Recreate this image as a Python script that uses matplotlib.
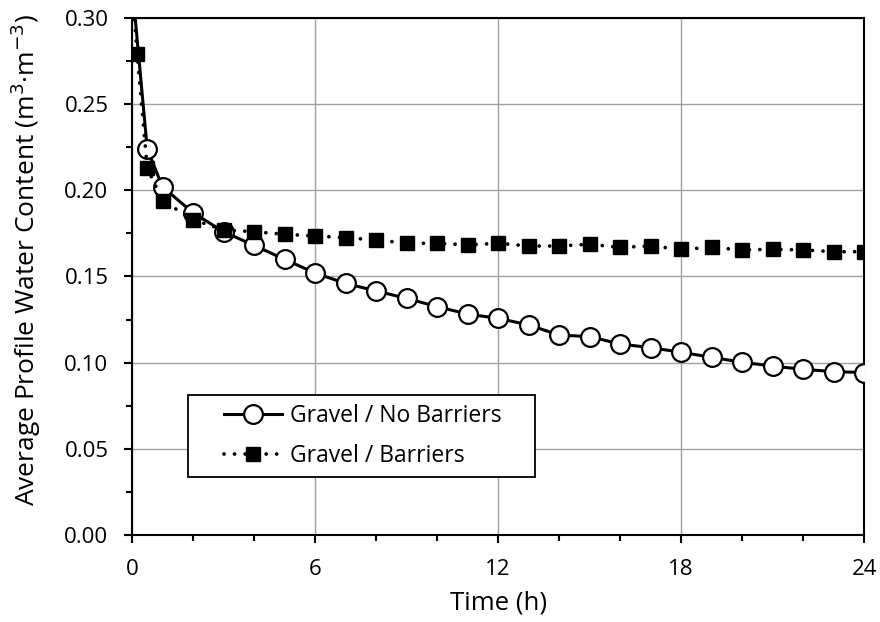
import matplotlib
matplotlib.use("Agg")
import matplotlib.pyplot as plt
from matplotlib.ticker import MultipleLocator, FormatStrFormatter
from matplotlib.patches import Rectangle

t_nb = [0, 0.5, 1, 2, 3, 4, 5, 6, 7, 8, 9, 10, 11, 12, 13, 14, 15, 16, 17, 18, 19, 20, 21, 22, 23, 24]
wc_nb = [0.32, 0.224, 0.202, 0.187, 0.176, 0.168, 0.160, 0.152, 0.146, 0.1416, 0.1373, 0.1325, 0.1282,
         0.1257, 0.1219, 0.116, 0.1151, 0.1108, 0.1087, 0.106, 0.1031, 0.1002, 0.098, 0.0961, 0.0948, 0.0942]

t_b = [0, 0.167, 0.5, 1, 2, 3, 4, 5, 6, 7, 8, 9, 10, 11, 12, 13, 14, 15, 16, 17, 18, 19, 20, 21, 22, 23, 24]
wc_b = [0.32, 0.279, 0.213, 0.194, 0.183, 0.177, 0.176, 0.1745, 0.1735, 0.1725, 0.1712, 0.1693, 0.1693,
        0.1683, 0.1693, 0.1677, 0.1677, 0.1687, 0.1669, 0.1677, 0.1658, 0.1669, 0.1654, 0.1658, 0.1654,
        0.1644, 0.1644]

plt.rcParams['font.family'] = ['Open Sans', 'DejaVu Sans']

fig = plt.figure(figsize=(8.8, 6.22), dpi=100)
ax = fig.add_axes([0.15, 0.14, 0.832, 0.831])

ax.plot(t_nb, wc_nb, '-', color='black', lw=2.2, marker='o', markersize=13.5,
        markerfacecolor='white', markeredgecolor='black', markeredgewidth=1.6,
        label='Gravel / No Barriers', zorder=3)
ax.plot(t_b, wc_b, linestyle=(0, (0.01, 2.8)), dash_capstyle='round', color='black', lw=2.7,
        marker='s', markersize=10, markerfacecolor='black', markeredgecolor='black',
        label='Gravel / Barriers', zorder=4)

ax.set_xlim(0, 24)
ax.set_ylim(0, 0.30)
ax.xaxis.set_major_locator(MultipleLocator(6))
ax.xaxis.set_minor_locator(MultipleLocator(2))
ax.yaxis.set_major_locator(MultipleLocator(0.05))
ax.yaxis.set_minor_locator(MultipleLocator(0.025))
ax.yaxis.set_major_formatter(FormatStrFormatter('%.2f'))

ax.grid(True, which='major', color='#a0a0a0', lw=1.0)
ax.set_axisbelow(True)
for s in ax.spines.values():
    s.set_color('black')
    s.set_linewidth(1.5)

ax.tick_params(which='major', direction='out', length=6, width=1.5, labelsize=16, pad=11)
ax.tick_params(which='minor', direction='out', length=4.5, width=1.5)

ax.set_xlabel('Time (h)', fontsize=18.5, labelpad=8)
ax.set_ylabel('Average Profile Water Content (m$^3$·m$^{-3}$)', fontsize=19)
ax.yaxis.set_label_coords(-0.121, 0.532)

# legend frame
ax.add_patch(Rectangle((0.0765, 0.1122), 0.474, 0.1586, transform=ax.transAxes,
                       facecolor='white', edgecolor='black', lw=1.3, zorder=5))
leg = ax.legend(loc='center left', bbox_to_anchor=(0.126, 0.1915), fontsize=16.5,
                frameon=False, handlelength=2.5, borderpad=0, labelspacing=0.72,
                borderaxespad=0, handletextpad=0.35)
leg.set_zorder(6)

fig.savefig('out.png', dpi=100)
